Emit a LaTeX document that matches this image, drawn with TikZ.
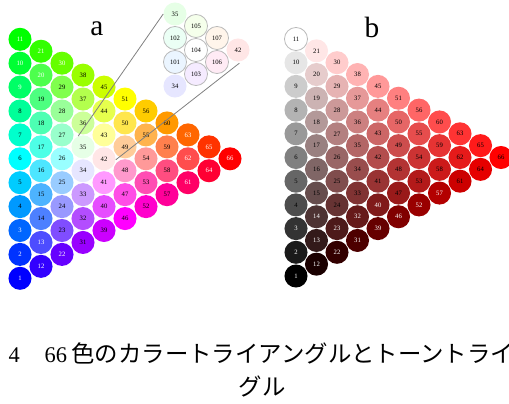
\documentclass[tikz,border=0pt]{standalone}
\usepackage{fontspec}
\setmainfont{Liberation Serif}
\newfontfamily\jpfont[Scale=1.045]{Noto Sans CJK JP}
\usepackage{tikz}

\definecolor{tint35}{RGB}{230,255,230}
\definecolor{tint34}{RGB}{230,230,255}
\definecolor{tint42}{RGB}{255,230,230}
\definecolor{tint101}{RGB}{235,245,255}
\definecolor{tint102}{RGB}{235,255,245}
\definecolor{tint103}{RGB}{245,235,255}
\definecolor{tint104}{RGB}{255,255,255}
\definecolor{tint105}{RGB}{245,255,235}
\definecolor{tint106}{RGB}{255,235,245}
\definecolor{tint107}{RGB}{255,245,235}

\begin{document}
\begin{tikzpicture}[
    x=0.75pt, y=-0.75pt,
    ball/.style={circle, inner sep=0pt, minimum size=17.3pt, font=\fontsize{5}{6}\selectfont},
    magball/.style={ball, draw=gray!55, line width=0.6pt},
    zoomline/.style={draw=gray, line width=0.6pt},
    panel/.style={font=\fontsize{22}{26}\selectfont},
    caption/.style={font=\fontsize{16.8}{20}\selectfont},
]
\useasboundingbox (0,0) rectangle (509,403);

% ===== COLOUR TRIANGLE (a) =====
\node[panel] (alabel) at (97,29) {a};

\foreach \c in {0,...,10} {
  \pgfmathtruncatemacro\rmax{10-\c}
  \foreach \r in {0,...,\rmax} {
    \pgfmathtruncatemacro\idx{1+11*\c-\c*(\c-1)/2+\r}
    \pgfmathtruncatemacro\wb{10-\c-\r}
    \pgfmathtruncatemacro\mn{min(\c,\r,\wb)}
    \pgfmathtruncatemacro\mx{max(\c,\r,\wb)}
    \pgfmathtruncatemacro\vR{round((min(10-3*\mn,2*(\c-\mn))+3*\mn)*25.5)}
    \pgfmathtruncatemacro\vG{round((min(10-3*\mn,2*(\r-\mn))+3*\mn)*25.5)}
    \pgfmathtruncatemacro\vB{round((min(10-3*\mn,2*(\wb-\mn))+3*\mn)*25.5)}
    \definecolor{ballcol}{RGB}{\vR,\vG,\vB}
    \ifnum\mx>7 \def\tc{white}\else\def\tc{black}\fi
    \node[ball, fill=ballcol, text=\tc] (a\idx) at ({20+21*\c},{278.3-11.95*\c-23.9*\r}) {\idx};
  }
}

% ===== MAGNIFIED CENTRE =====
\node[ball, fill=tint35] (i35) at (175,14) {35};
\node[ball, fill=tint34] (i34) at (175,86) {34};
\node[ball, fill=tint42] (i42) at (238,50) {42};
\foreach \nm/\px/\py in {105/196/26, 102/175/38, 104/196/50, 107/217/38,
                         101/175/62, 106/217/62, 103/196/74} {
  \node[magball, fill=tint\nm] (i\nm) at (\px,\py) {\nm};
}

\draw[zoomline] (i35.west) -- (a35.114);
\draw[zoomline, shorten <=2.5pt] (i42.-70) -- (a42.-5);

% ===== TONE TRIANGLE (b) =====
\node[panel] (blabel) at (372,27) {b};

\foreach \c in {0,...,10} {
  \pgfmathtruncatemacro\rmax{10-\c}
  \foreach \r in {0,...,\rmax} {
    \pgfmathtruncatemacro\idx{1+11*\c-\c*(\c-1)/2+\r}
    \pgfmathtruncatemacro\vR{round((\c+\r)*25.5)}
    \pgfmathtruncatemacro\vG{round(\r*25.5)}
    \pgfmathtruncatemacro\lum{0.3*\vR+0.7*\vG}
    \definecolor{ballcol}{RGB}{\vR,\vG,\vG}
    \ifnum\lum<60 \def\tc{white}\else\def\tc{black}\fi
    \ifnum\idx=11
      \node[magball, fill=white] (b\idx) at ({296+20.5*\c},{276-11.85*\c-23.7*\r}) {\idx};
    \else
      \node[ball, fill=ballcol, text=\tc] (b\idx) at ({296+20.5*\c},{276-11.85*\c-23.7*\r}) {\idx};
    \fi
  }
}

% ===== CAPTION =====
\node[caption, anchor=base west] (cap1) at (4,362)
  {4\hspace{1.1em}66\hspace{0.2em}{\jpfont 色のカラートライアングルとトーントライ}};
\node[caption, anchor=base] (cap2) at (262,395) {\jpfont グル};

\end{tikzpicture}
\end{document}
